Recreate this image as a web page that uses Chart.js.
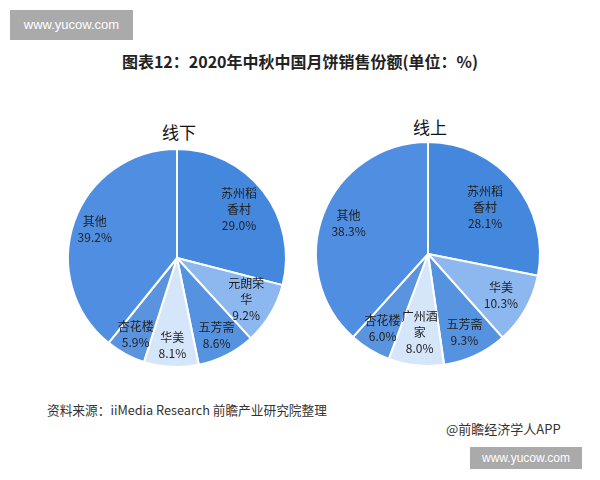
<!DOCTYPE html>
<html><head><meta charset="utf-8">
<script src="https://cdn.jsdelivr.net/npm/chart.js@4/dist/chart.umd.min.js"></script>
<style>
html,body{margin:0;padding:0;background:#fff;}
body{width:600px;height:480px;position:relative;overflow:hidden;font-family:"Noto Sans CJK SC","Noto Sans",sans-serif;}
.abs{position:absolute;white-space:nowrap;}
#wm1{left:10px;top:10px;width:123px;height:30px;background:#aaaaaa;color:#fff;font:13px "Liberation Sans",Arial,sans-serif;line-height:30px;text-align:center;}
#wm2{left:470px;top:447px;width:112px;height:22px;background:#aaaaaa;color:#fff;font:12px "Liberation Sans",Arial,sans-serif;line-height:22px;text-align:center;}
#title{left:0;width:600px;top:49px;text-align:center;font-weight:bold;font-size:16px;color:#222;}
.sub{font-size:17px;color:#111;transform:translateX(-50%);}
#src{left:47px;top:400px;font-size:12.7px;color:#333;}
#app{left:446px;top:419px;font-size:13px;color:#333;}
canvas{position:absolute;}
</style></head><body>
<div id="wm1" class="abs">www.yucow.com</div>
<div id="title" class="abs">图表12：2020年中秋中国月饼销售份额(单位：%)</div>
<div class="abs sub" style="left:179px;top:119px;">线下</div>
<div class="abs sub" style="left:430px;top:114px;">线上</div>
<div style="position:absolute;left:57px;top:138px;width:240px;height:240px;"><canvas id="c1"></canvas></div>
<div style="position:absolute;left:308px;top:134px;width:240px;height:240px;"><canvas id="c2"></canvas></div>
<div id="src" class="abs">资料来源：iiMedia Research 前瞻产业研究院整理</div>
<div id="app" class="abs">@前瞻经济学人APP</div>
<div id="wm2" class="abs">www.yucow.com</div>
<script>
// Data
const offlineLabels = ["苏州稻香村", "元朗荣华", "五芳斋", "华美", "杏花楼", "其他"];
const offlineValues = [29.0, 9.2, 8.6, 8.1, 5.9, 39.2];
const offlineLines = [["苏州稻", "香村"], ["元朗荣", "华"], ["五芳斋"], ["华美"], ["杏花楼"], ["其他"]];

const onlineLabels = ["苏州稻香村", "华美", "五芳斋", "广州酒家", "杏花楼", "其他"];
const onlineValues = [28.1, 10.3, 9.3, 8.0, 6.0, 38.3];
const onlineLines = [["苏州稻", "香村"], ["华美"], ["五芳斋"], ["广州酒", "家"], ["杏花楼"], ["其他"]];

const offlineColors = ["#4488de", "#8db8ef", "#5592e0", "#d6e6fa", "#5a94df", "#4f8ee0"];
const onlineColors = ["#4488de", "#8db8ef", "#5592e0", "#d6e6fa", "#5a94df", "#4f8ee0"];

const labelPlugin = {
  id: 'sliceLabels',
  afterDatasetsDraw(chart, args, opts) {
    const ctx = chart.ctx;
    const meta = chart.getDatasetMeta(0);
    const vals = chart.data.datasets[0].data;
    ctx.save();
    ctx.font = '12px "Noto Sans CJK SC", sans-serif';
    ctx.fillStyle = '#222';
    ctx.textAlign = 'center';
    ctx.textBaseline = 'middle';
    meta.data.forEach((arc, i) => {
      const p = arc.getProps(['x','y','startAngle','endAngle','outerRadius'], true);
      const mid = (p.startAngle + p.endAngle) / 2;
      const f = opts.radii[i];
      const cx = p.x + Math.cos(mid) * p.outerRadius * f;
      const cy = p.y + Math.sin(mid) * p.outerRadius * f;
      const lines = opts.lines[i].concat([vals[i].toFixed(1) + '%']);
      const lh = 16;
      const y0 = cy - (lines.length - 1) * lh / 2;
      lines.forEach((t, k) => ctx.fillText(t, cx, y0 + k * lh));
    });
    ctx.restore();
  }
};

function makePie(id, labels, values, colors, lines, radius, radii) {
  new Chart(document.getElementById(id), {
    type: 'pie',
    data: { labels: labels, datasets: [{ data: values, backgroundColor: colors, borderColor: '#ffffff', borderWidth: 2 }] },
    options: {
      responsive: true, maintainAspectRatio: false, animation: false,
      radius: radius,
      layout: { padding: 0 },
      plugins: { legend: { display: false }, tooltip: { enabled: false }, title: { display: false },
        sliceLabels: { lines: lines, radii: radii } }
    },
    plugins: [labelPlugin]
  });
}
makePie('c1', offlineLabels, offlineValues, offlineColors, offlineLines, 109, [0.72, 0.74, 0.8, 0.8, 0.8, 0.8]);
makePie('c2', onlineLabels, onlineValues, onlineColors, onlineLines, 112, [0.66, 0.75, 0.77, 0.7, 0.78, 0.76]);
</script>
</body></html>
